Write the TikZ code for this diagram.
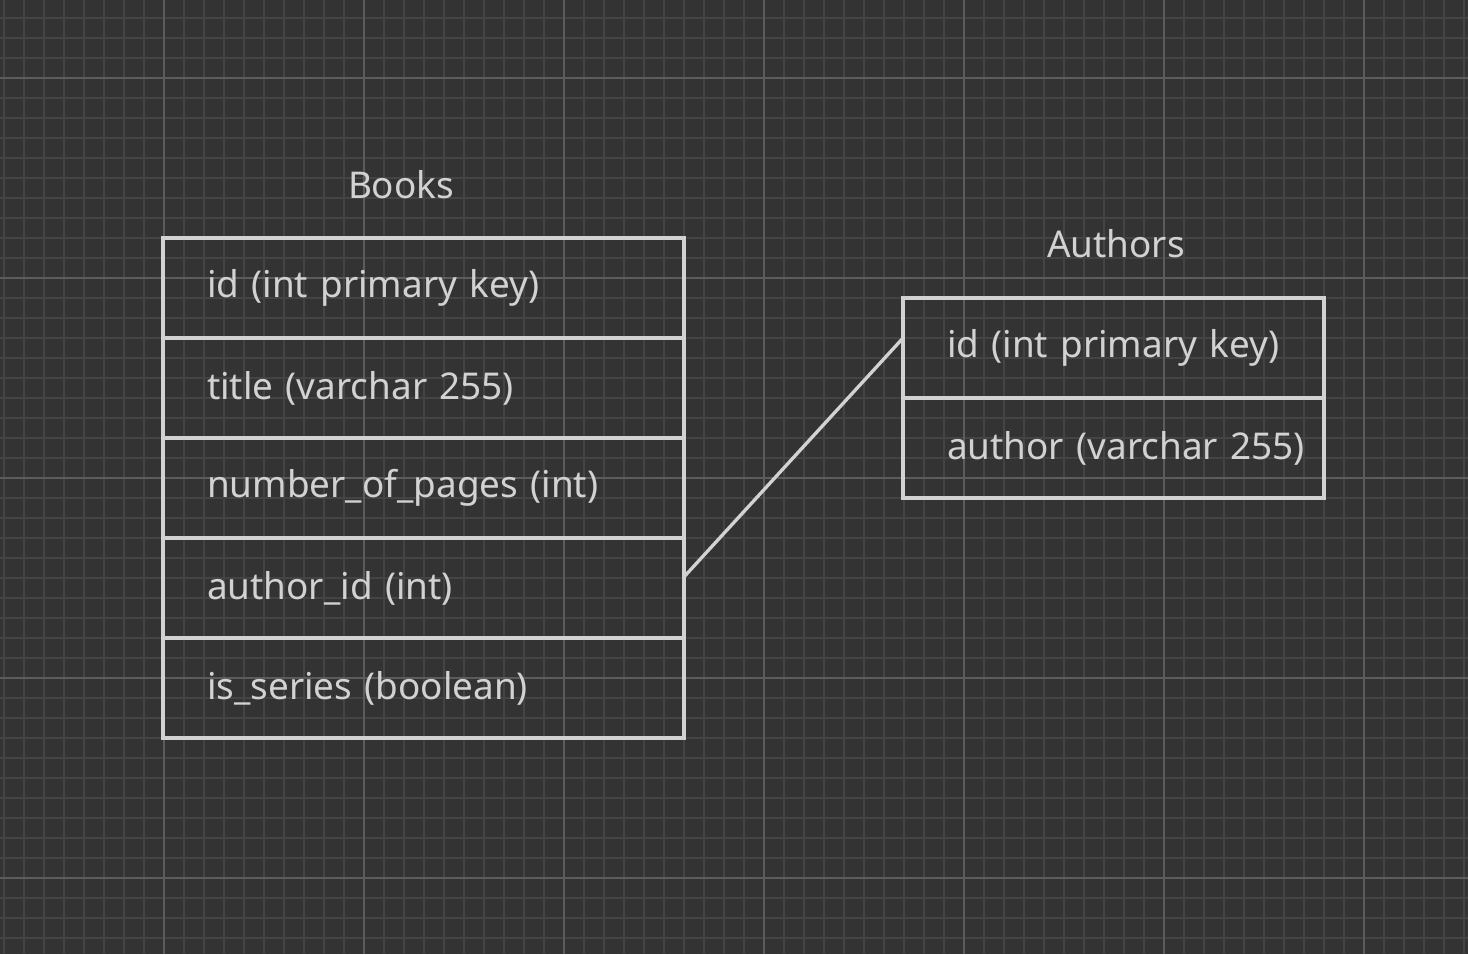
\documentclass[tikz,border=0pt]{standalone}
\usepackage{fontspec}
\setmainfont{Noto Sans}
\usepackage{tikz}
\usetikzlibrary{positioning}
\definecolor{canvascolor}{RGB}{51, 51, 51}
\definecolor{minorgrid}{RGB}{68, 68, 68}
\definecolor{majorgrid}{RGB}{92, 92, 92}
\definecolor{inkcolor}{RGB}{210, 210, 210}
\newcommand\fieldfont{\fontsize{21}{25}\selectfont\hyphenpenalty=10000\hbadness=10000}

\begin{document}
\begin{tikzpicture}[
    x=0.02cm, y=-0.02cm,
    field/.style={draw=inkcolor, line width=2pt, outer sep=0pt, minimum height=2cm, inner xsep=0.88cm, align=left, text=inkcolor, font=\fieldfont},
    bookfield/.style={field, text width=8.66cm},
    authorfield/.style={field, text width=6.66cm},
    tabletitle/.style={anchor=base, text=inkcolor, font=\fieldfont},
    link/.style={draw=inkcolor, line width=1.9pt}
]
    % Canvas and grid
    \useasboundingbox (0,0) rectangle (1468,954);
    \fill[canvascolor] (0,0) rectangle (1468,954);
    \foreach \gx in {4,24,...,1464} \draw[minorgrid, line width=0.6pt] (\gx,0) -- (\gx,954);
    \foreach \gy in {18,38,...,938} \draw[minorgrid, line width=0.6pt] (0,\gy) -- (1468,\gy);
    \foreach \gx in {164,364,...,1364} \draw[majorgrid, line width=0.7pt] (\gx,0) -- (\gx,954);
    \foreach \gy in {78,278,...,878} \draw[majorgrid, line width=0.7pt] (0,\gy) -- (1468,\gy);

    % Books table
    \node[tabletitle] (booksttl) at (401,198) {Books};
    \node[bookfield] (bid) at (423.5,288) {id~(int~primary~key)};
    \node[bookfield, below=0pt of bid] (btitle) {title~(varchar~255)};
    \node[bookfield, below=0pt of btitle] (bpages) {number\_of\_pages~(int)};
    \node[bookfield, below=0pt of bpages] (bauthor) {author\_id~(int)};
    \node[bookfield, below=0pt of bauthor] (bseries) {is\_series~(boolean)};

    % Authors table
    \node[tabletitle] (authorsttl) at (1116,257) {Authors};
    \node[authorfield] (aid) at (1113.5,348) {id~(int~primary~key)};
    \node[authorfield, below=0pt of aid] (aname) {author~(varchar~255)};

    % Relation
    \draw[link] ([yshift=0.22cm]bauthor.east) -- ([yshift=0.2cm]aid.west);

\end{tikzpicture}
\end{document}
